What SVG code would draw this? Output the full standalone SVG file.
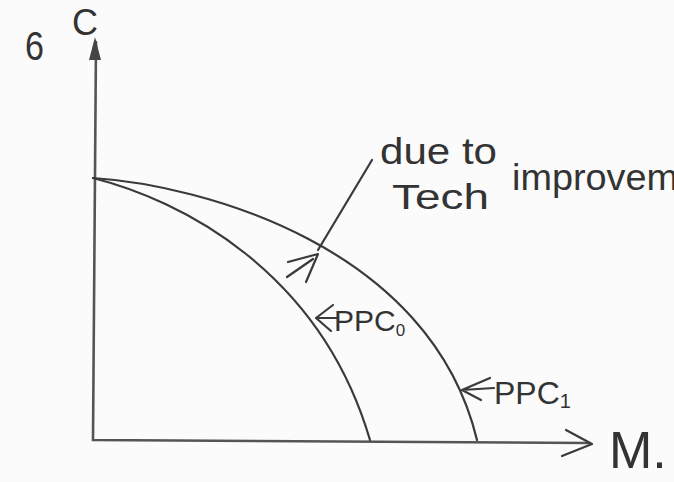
<svg xmlns="http://www.w3.org/2000/svg" width="674" height="482" viewBox="0 0 674 482">
  <style>
    .ink { fill: none; stroke: #3a3a3a; stroke-width: 2.2; stroke-linecap: round; stroke-linejoin: round; }
    .axis { fill: none; stroke: #555; stroke-width: 2.6; stroke-linecap: round; }
    .txt { font-family: "Liberation Sans", Arial, sans-serif; fill: #333; }
  </style>
  <rect width="674" height="482" fill="#fbfbfb"/>

  <g id="axes">
    <path class="axis" d="M96,42 L93,440 L588,443"/>
    <path d="M95,37 L89,60 L101,60 Z" fill="#444"/>
    <path class="ink" d="M566,430 L592,444 L562,456"/>
  </g>

  <g id="ppc0">
    <path class="ink" d="M93,178 C180,200 320,270 370,440"/>
  </g>

  <g id="ppc1">
    <path class="ink" d="M93,178 C200,185 430,245 477,440"/>
  </g>

  <g id="connectors">
    <path class="ink" d="M372,160 L318,250"/>
    <path class="ink" d="M288,262 L318,254 L306,282"/>
    <path class="ink" d="M287,277 L313,259"/>
    <path class="ink" d="M333,305 L316,318 L331,331 M316,318 L338,318"/>
    <path class="ink" d="M490,378 L462,390 L481,400 M462,390 L494,388"/>
  </g>

  <g id="labels">
    <text class="txt" x="25" y="60" font-size="40" textLength="19" lengthAdjust="spacingAndGlyphs">6</text>
    <text class="txt" x="72" y="35" font-size="36">C</text>
    <text class="txt" x="609" y="468" font-size="52">M.</text>
    <text class="txt" x="380" y="164" font-size="36" textLength="117" lengthAdjust="spacingAndGlyphs">due to</text>
    <text class="txt" font-size="35"><tspan x="392" y="209" textLength="97" lengthAdjust="spacingAndGlyphs">Tech</tspan><tspan x="512" y="190" font-size="37" textLength="166" lengthAdjust="spacingAndGlyphs">improvem</tspan></text>
    <text class="txt" x="334" y="331" font-size="30">PPC<tspan font-size="17" dy="5">0</tspan></text>
    <text class="txt" x="494" y="404" font-size="32">PPC<tspan font-size="20" dy="4">1</tspan></text>
  </g>
</svg>
